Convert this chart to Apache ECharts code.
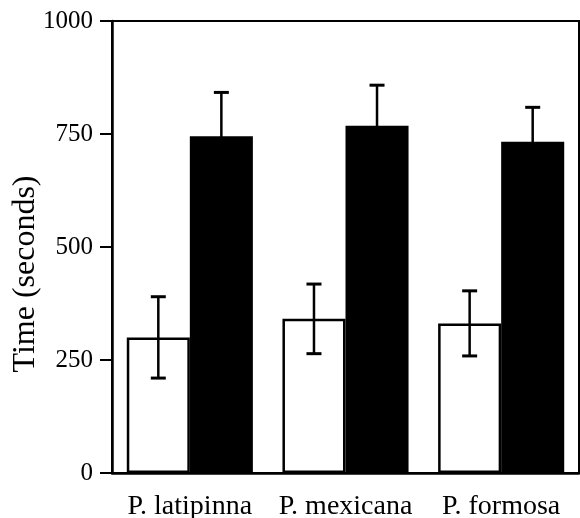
<!DOCTYPE html>
<html>
<head>
<meta charset="utf-8">
<script src="https://cdn.jsdelivr.net/npm/echarts@6/dist/echarts.min.js"></script>
<style>html,body{margin:0;padding:0;background:#fff}#c{width:580px;height:518px}</style>
</head>
<body>
<div id="c"></div>
<script>
var categories = ['P. latipinna', 'P. mexicana', 'P. formosa'];
var whiteMeans = [300, 341, 331];
var whiteErr = [90, 77, 72];
var blackMeans = [745, 768, 733];
var blackErr = [97, 90, 76];
var yTicks = [0, 250, 500, 750, 1000];

var FONT = 'Liberation Serif';
var GAP = 0.19;

function errSeries(means, errs, side, color) {
  var data = means.map(function (m, i) { return [i, m - errs[i], m + errs[i]]; });
  return {
    type: 'custom',
    z: 10,
    data: data,
    encode: { x: 0, y: [1, 2] },
    renderItem: function (params, api) {
      var i = api.value(0);
      var band = api.size([1, 0])[0];
      var bw = band * (1 - GAP) / 2;
      var c = api.coord([i, api.value(1)]);
      var t = api.coord([i, api.value(2)]);
      var x = c[0] + side * bw / 2;
      var capHalf = 7.5;
      var st = { stroke: color, lineWidth: 2.5 };
      return {
        type: 'group',
        children: [
          { type: 'line', shape: { x1: x, y1: c[1], x2: x, y2: t[1] }, style: st },
          { type: 'line', shape: { x1: x - capHalf, y1: t[1], x2: x + capHalf, y2: t[1] }, style: { stroke: color, lineWidth: 3 } },
          { type: 'line', shape: { x1: x - capHalf, y1: c[1], x2: x + capHalf, y2: c[1] }, style: { stroke: color, lineWidth: 3 } }
        ]
      };
    }
  };
}

var chart = echarts.init(document.getElementById('c'), null, { renderer: 'canvas' });
chart.setOption({
  animation: false,
  backgroundColor: '#fff',
  grid: { left: 112, right: 1, top: 21, bottom: 45, containLabel: false, outerBoundsMode: 'none', show: true, borderColor: '#000', borderWidth: 2, backgroundColor: 'transparent' },
  xAxis: {
    type: 'category',
    data: categories,
    axisLine: { lineStyle: { color: '#000', width: 2.5 } },
    axisTick: { alignWithLabel: true, length: 11, lineStyle: { color: '#000', width: 2 } },
    axisLabel: { interval: 0, hideOverlap: false, color: '#000', fontFamily: FONT, fontSize: 28, margin: 20 }
  },
  yAxis: {
    type: 'value',
    min: yTicks[0],
    max: yTicks[yTicks.length - 1],
    interval: 250,
    name: 'Time (seconds)',
    nameLocation: 'middle',
    nameGap: 70,
    nameMoveOverlap: false,
    nameTextStyle: { color: '#000', fontFamily: FONT, fontSize: 32, padding: [0, 54, 0, 0] },
    splitLine: { show: false },
    axisLine: { show: true, lineStyle: { color: '#000', width: 2.5 } },
    axisTick: { show: true, length: 12, lineStyle: { color: '#000', width: 2 } },
    axisLabel: { color: '#000', fontFamily: FONT, fontSize: 25, margin: 19, formatter: function (v) { return String(v); } }
  },
  series: [
    {
      type: 'bar',
      data: whiteMeans,
      barGap: '0%',
      barCategoryGap: '19%',
      itemStyle: { color: '#fff', borderColor: '#000', borderWidth: 2.5 }
    },
    {
      type: 'bar',
      data: blackMeans,
      barGap: '0%',
      barCategoryGap: '19%',
      itemStyle: { color: '#000', borderColor: '#000', borderWidth: 0 }
    },
    errSeries(whiteMeans, whiteErr, -1, '#000'),
    errSeries(blackMeans, blackErr, 1, '#000')
  ]
});
</script>
</body>
</html>
